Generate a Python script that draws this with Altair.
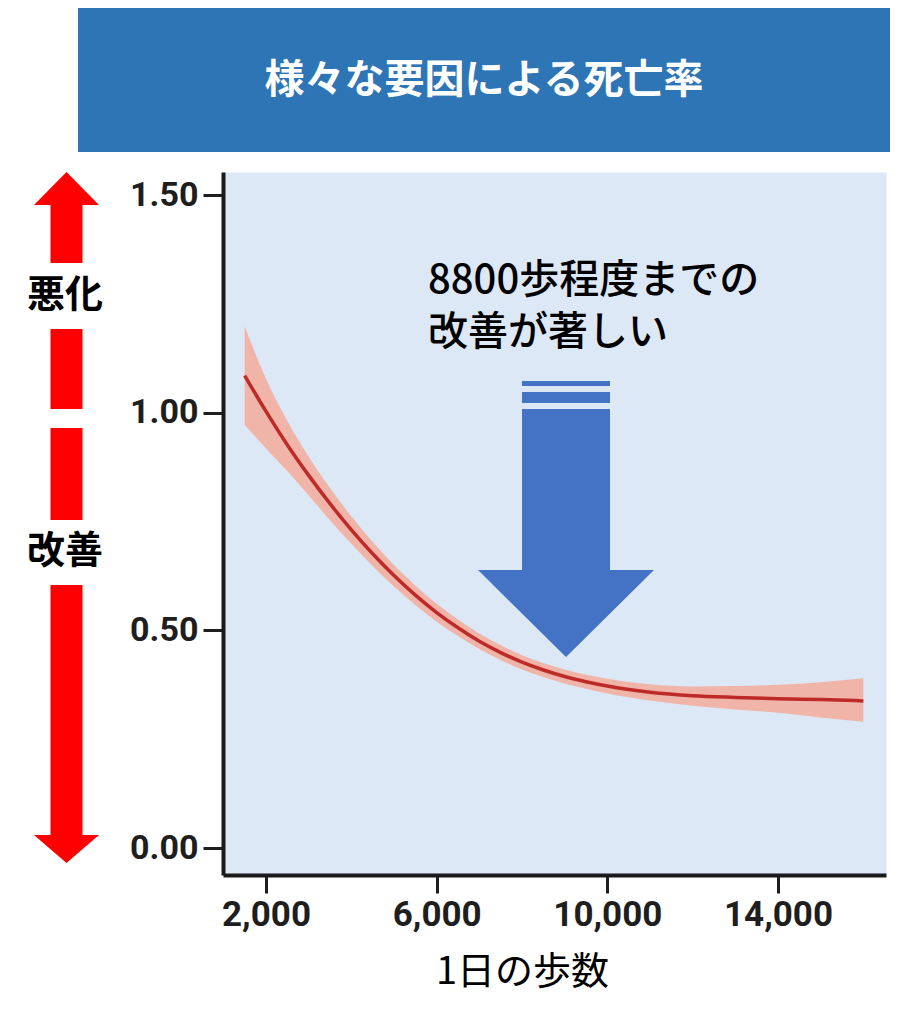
import altair as alt
import pandas as pd

# ---- data ----
steps = [1500, 2000, 2500, 3000, 3500, 4000, 4500, 5000, 5500, 6000, 6500, 7000,
         7500, 8000, 8500, 9000, 9500, 10000, 11000, 12000, 13000, 14000, 15000, 16000]
rate = [1.085, 1.003, 0.926, 0.856, 0.791, 0.731, 0.676, 0.626, 0.581, 0.541, 0.506, 0.475,
        0.449, 0.427, 0.409, 0.394, 0.382, 0.372, 0.358, 0.350, 0.346, 0.343, 0.341, 0.338]
lower = [0.972, 0.918, 0.866, 0.810, 0.753, 0.699, 0.648, 0.601, 0.558, 0.520, 0.487, 0.457,
         0.432, 0.410, 0.393, 0.378, 0.366, 0.355, 0.339, 0.327, 0.318, 0.311, 0.300, 0.290]
upper = [1.198, 1.078, 0.981, 0.899, 0.827, 0.762, 0.703, 0.650, 0.603, 0.561, 0.525, 0.493,
         0.466, 0.443, 0.425, 0.410, 0.398, 0.389, 0.376, 0.371, 0.372, 0.375, 0.381, 0.390]

x_ticks = [2000, 6000, 10000, 14000]
y_ticks = [0.0, 0.5, 1.0, 1.5]

title_text = "様々な要因による死亡率"
x_title = "1日の歩数"
note_lines = ["8800歩程度までの", "改善が著しい"]
worse_label = "悪化"
better_label = "改善"

df = pd.DataFrame({"steps": steps, "rate": rate, "lower": lower, "upper": upper})

# ---- layout (plot area origin on page) ----
OX, OY = 223, 172
W, H = 663, 703
JP = "Noto Sans CJK JP"

one = pd.DataFrame({"k": [0]})


def poly_path(polys, ax, ay, s=100.0):
    parts = []
    for poly in polys:
        pts = [f"{(x - ax) / s:.4f},{(y - ay) / s:.4f}" for x, y in poly]
        parts.append("M" + "L".join(pts) + "Z")
    return "".join(parts)


def shape_layer(polys, ax, ay, color):
    return alt.Chart(one).mark_point(
        shape=poly_path(polys, ax, ay), filled=True, color=color, opacity=1,
        size=40000, strokeWidth=0
    ).encode(x=alt.value(ax - OX), y=alt.value(ay - OY))


def text_layer(txt, px, py, size, color="black", weight="normal", align="center",
               font=JP, line_height=None):
    kw = {}
    if line_height is not None:
        kw["lineHeight"] = line_height
    return alt.Chart(one).mark_text(
        text=txt, fontSize=size, font=font, fontWeight=weight, color=color,
        align=align, baseline="middle", **kw
    ).encode(x=alt.value(px - OX), y=alt.value(py - OY))


xs = alt.Scale(domain=[992, 16531], nice=False, zero=False)
ys = alt.Scale(domain=[-0.062, 1.553], nice=False, zero=False)

x_enc = alt.X("steps:Q", scale=xs, axis=alt.Axis(
    values=x_ticks, format=",d", title=x_title, titleFont=JP, titleFontSize=38,
    titleFontWeight="normal", titleColor="black", titleX=299, titleY=97,
    titleAlign="center", titleBaseline="middle",
    labelFont="Roboto", labelFontSize=35, labelFontWeight="bold", labelColor="#1e1e1e",
    labelPadding=4, tickSize=18, tickWidth=3, tickColor="#1e1e1e",
    domainWidth=4, domainColor="#1a1a1a", grid=False, labelFlush=False))

band = alt.Chart(df).mark_area(color="#F0B4A9", opacity=1, interpolate="monotone").encode(
    x=x_enc,
    y=alt.Y("lower:Q", scale=ys, axis=alt.Axis(
        values=y_ticks, format=".2f", title=None,
        labelFont="Roboto", labelFontSize=34, labelFontWeight="bold", labelColor="#1e1e1e",
        labelPadding=5, tickSize=20, tickWidth=3, tickColor="#1e1e1e",
        domainWidth=4, domainColor="#1a1a1a", grid=False)),
    y2="upper:Q")

line = alt.Chart(df).mark_line(color="#BE2A27", strokeWidth=3.5, interpolate="monotone").encode(
    x=alt.X("steps:Q", scale=xs), y=alt.Y("rate:Q", scale=ys))

# title banner
banner = alt.Chart(one).mark_rect(color="#2E75B6").encode(
    x=alt.value(78 - OX), x2=alt.value(890 - OX), y=alt.value(8 - OY), y2=alt.value(152 - OY))
title = text_layer(title_text, 484, 81, 40, color="white", weight="bold")

# red double arrow at left
red_polys = [
    [(66.5, 172), (99, 205), (34, 205)],
    [(50.5, 205), (82.5, 205), (82.5, 263), (50.5, 263)],
    [(50.5, 329), (82.5, 329), (82.5, 409), (50.5, 409)],
    [(50.5, 428), (82.5, 428), (82.5, 520), (50.5, 520)],
    [(50.5, 585), (82.5, 585), (82.5, 835), (50.5, 835)],
    [(34, 835), (99, 835), (66.5, 863)],
]
red_arrow = shape_layer(red_polys, 66.5, 172, "#FF0000")
worse = text_layer(worse_label, 65, 296, 38, weight="bold")
better = text_layer(better_label, 65, 552, 38, weight="bold")

# blue arrow
blue_polys = [
    [(522, 381), (610, 381), (610, 386), (522, 386)],
    [(522, 392), (610, 392), (610, 403), (522, 403)],
    [(522, 409), (610, 409), (610, 570), (654, 570), (566, 657), (478, 570), (522, 570)],
]
blue_arrow = shape_layer(blue_polys, 566, 409, "#4472C4")
note = text_layer(note_lines, 428, 281, 40, align="left", weight=500, line_height=52)

chart = alt.layer(
    band, line, banner, title, red_arrow, worse, better, blue_arrow, note
).properties(
    width=W, height=H,
    autosize=alt.AutoSizeParams(type="none"),
    padding={"left": OX - 8, "top": OY - 8, "right": 20, "bottom": 130},
).configure(
    background="white",
    view=alt.ViewConfig(fill="#DCE8F5", stroke="transparent"),
)

chart.save("out.html", embed_options={"renderer": "svg", "actions": False})
